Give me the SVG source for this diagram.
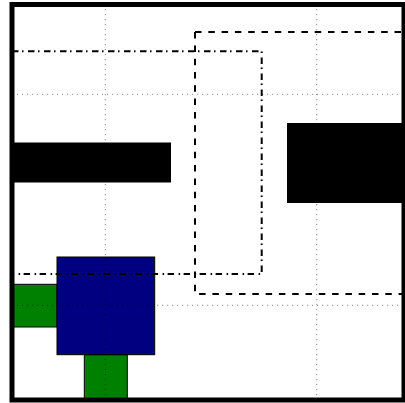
<svg xmlns="http://www.w3.org/2000/svg" width="405" height="403" viewBox="0 0 405 403">
<style>
.grid{stroke:#000;stroke-opacity:0.45;stroke-width:1;stroke-dasharray:1.2 3.8;fill:none}
.patch{stroke:#000;stroke-width:1}
.dashdot{fill:none;stroke:#000;stroke-width:2;stroke-dasharray:6.5 3.5 1.5 4.5}
.dashed{fill:none;stroke:#000;stroke-width:2;stroke-dasharray:6.5 6.8}
</style>
<defs>
<clipPath id="ax"><rect x="12" y="4.5" width="392" height="395.5"/></clipPath>
</defs>
<rect x="0" y="0" width="405" height="403" fill="#fff"/>
<g clip-path="url(#ax)">
<g id="black-bar-left"><rect x="0" y="142.5" width="171" height="40" fill="#000"/></g>
<g id="black-bar-right"><rect x="287" y="123" width="130" height="80" fill="#000"/></g>
<g id="green-left"><rect class="patch" x="13.3" y="284.3" width="43.7" height="42.7" fill="#008000"/></g>
<g id="green-bottom"><rect class="patch" x="84.3" y="354.7" width="43" height="50" fill="#008000"/></g>
<g id="blue-square"><rect class="patch" x="57" y="257" width="97.7" height="97.7" fill="#000080"/></g>
<g id="dashdot-rect"><rect class="dashdot" x="-20" y="51.3" width="281.7" height="222.7"/></g>
<g id="dashed-rect"><rect class="dashed" x="195" y="32" width="260" height="262"/></g>
<g id="grid">
<line class="grid" x1="105.3" y1="4" x2="105.3" y2="400"/>
<line class="grid" x1="316.7" y1="4" x2="316.7" y2="400"/>
<line class="grid" x1="12" y1="94.3" x2="404" y2="94.3"/>
<line class="grid" x1="12" y1="305.3" x2="404" y2="305.3"/>
</g>
</g>
<g id="frame"><rect x="12" y="4.5" width="392" height="395.5" fill="none" stroke="#000" stroke-width="5"/></g>
</svg>
